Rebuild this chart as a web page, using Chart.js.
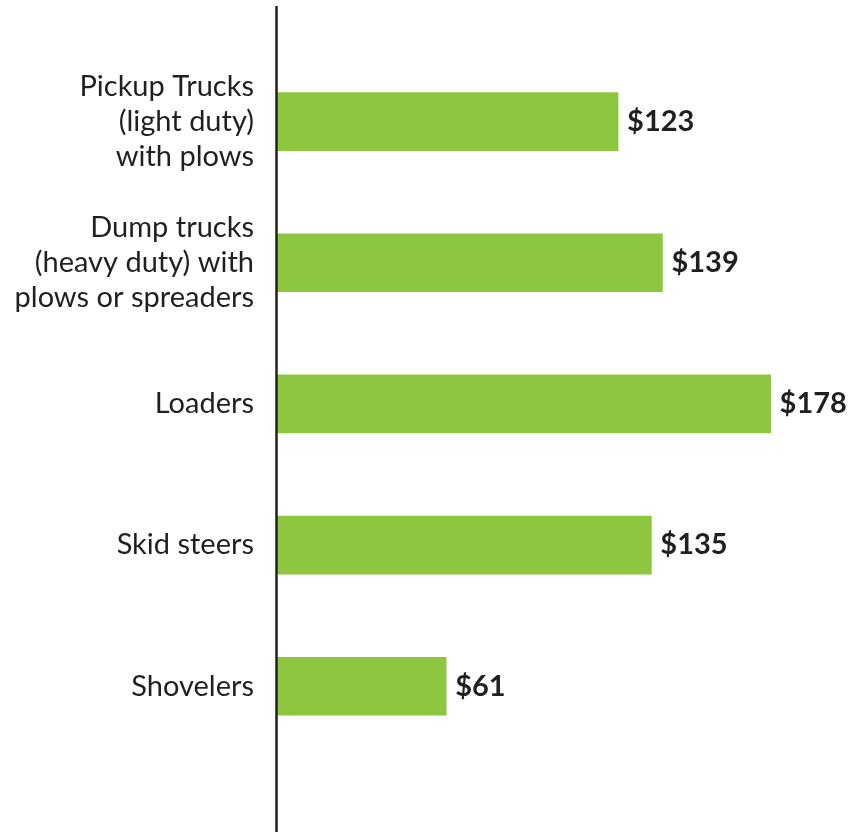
<!DOCTYPE html>
<html>
<head>
<meta charset="utf-8">
<style>
  html, body { margin: 0; padding: 0; background: #fff; }
  #wrap { width: 848px; height: 832px; }
</style>
<script src="https://cdn.jsdelivr.net/npm/chart.js@4/dist/chart.umd.min.js"></script>
</head>
<body>
<div id="wrap"><canvas id="myChart" width="848" height="832"></canvas></div>
<script>
const categories = [
  ["Pickup Trucks", "(light duty)", "with plows"],
  ["Dump trucks", "(heavy duty) with", "plows or spreaders"],
  "Loaders",
  "Skid steers",
  "Shovelers"
];
const costs = [123, 139, 178, 135, 61];

const textColor = "#231f20";
const barColor = "#8dc63f";
const fontFamily = "Lato, 'Open Sans', sans-serif";

// value labels at the end of each bar
const valueLabels = {
  id: "valueLabels",
  afterDatasetsDraw(chart) {
    const ctx = chart.ctx;
    const meta = chart.getDatasetMeta(0);
    ctx.save();
    ctx.font = "bold 29px " + fontFamily;
    ctx.fillStyle = textColor;
    ctx.textAlign = "left";
    ctx.textBaseline = "middle";
    meta.data.forEach((bar, i) => {
      ctx.fillText("$" + costs[i], bar.x + 9, bar.y);
    });
    ctx.restore();
  }
};

// vertical axis line running the full height
const axisLine = {
  id: "axisLine",
  afterDraw(chart) {
    const ctx = chart.ctx;
    const x = chart.scales.x.getPixelForValue(0);
    ctx.save();
    ctx.strokeStyle = textColor;
    ctx.lineWidth = 2.5;
    ctx.beginPath();
    ctx.moveTo(x - 0.5, 6);
    ctx.lineTo(x - 0.5, chart.height);
    ctx.stroke();
    ctx.restore();
  }
};

const data = {
  labels: categories,
  datasets: [
    {
      data: costs,
      backgroundColor: barColor,
      borderWidth: 0,
      barThickness: 58,
    },
  ],
};

const config = {
  type: "bar",
  data: data,
  options: {
    indexAxis: "y",
    responsive: false,
    animation: false,
    layout: {
      padding: { top: 51, bottom: 65, right: 15, left: 0 },
    },
    plugins: {
      legend: { display: false },
      tooltip: { enabled: false },
    },
    scales: {
      x: {
        min: 0,
        max: 200.5,
        display: false,
      },
      y: {
        grid: { display: false, drawTicks: false },
        border: { display: false },
        afterFit(scale) {
          scale.width = 277;
        },
        ticks: {
          padding: 23,
          color: textColor,
          font: { family: fontFamily, size: 29, lineHeight: 1.2 },
        },
      },
    },
  },
  plugins: [valueLabels, axisLine],
};

var myChart = new Chart(document.getElementById("myChart"), config);
</script>
</body>
</html>
